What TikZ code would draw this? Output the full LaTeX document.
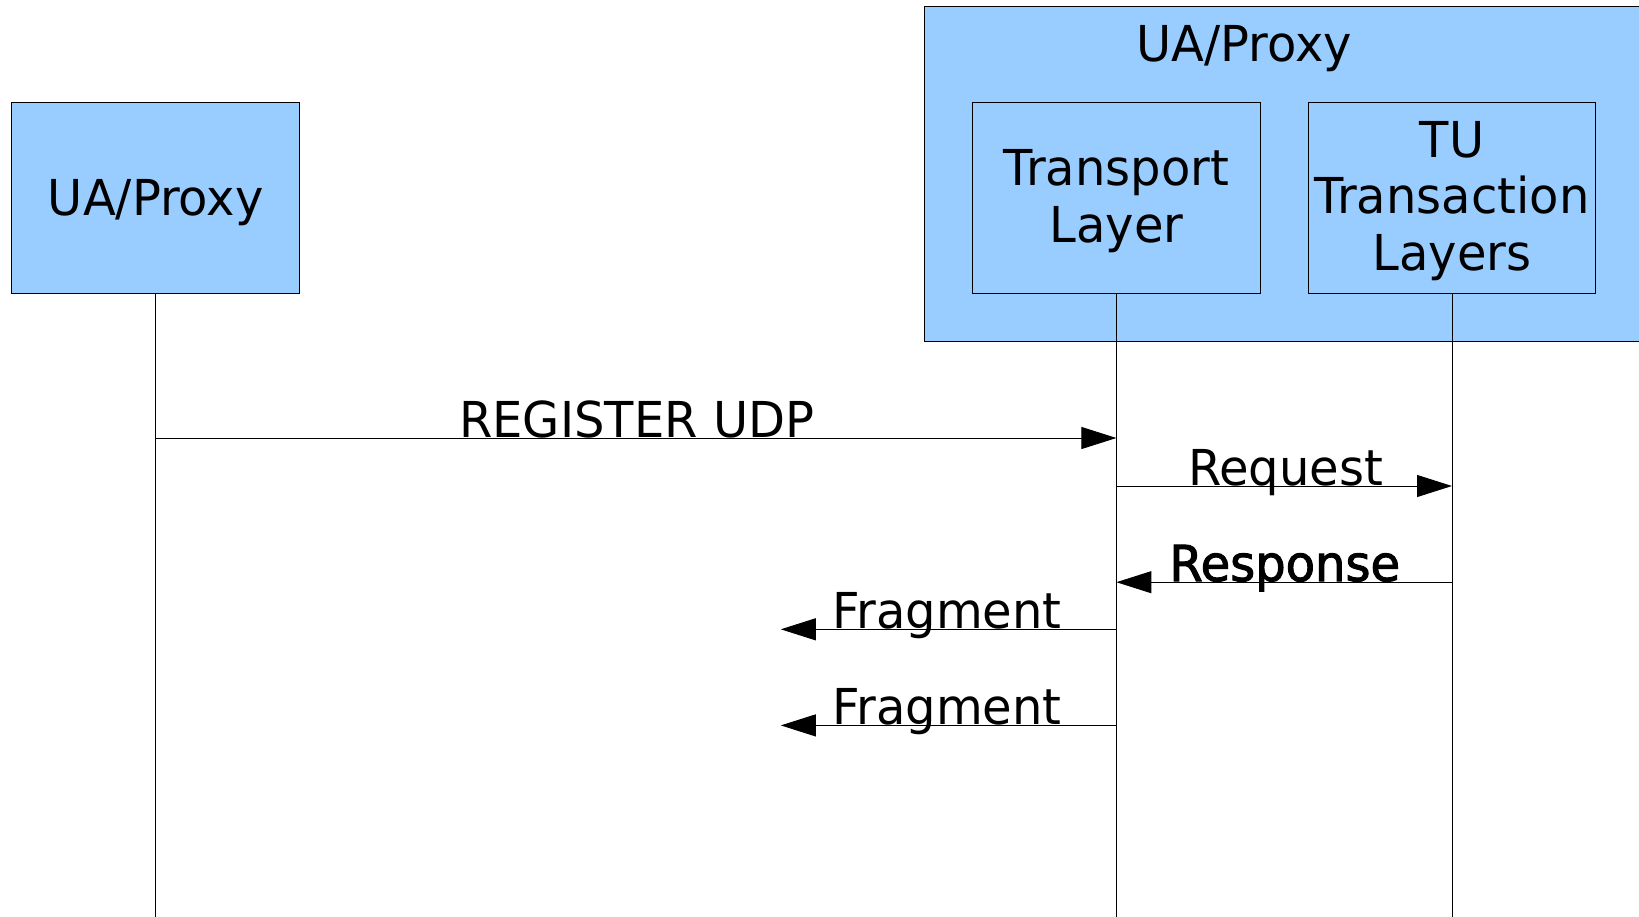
\documentclass[tikz,border=0pt]{standalone}
\usepackage{fontspec}
\setmainfont{DejaVu Sans}[FakeStretch=0.97]
\newfontfamily\heavyfont{DejaVu Sans}[FakeStretch=0.97,FakeBold=2]
\usetikzlibrary{arrows.meta}
\definecolor{layerblue}{HTML}{99CCFF}
\tikzset{
  box/.style={draw=black, line width=1pt, fill=layerblue, inner sep=0pt,
    align=center, font=\fontsize{49.5}{56.5}\selectfont},
  lifeline/.style={draw=black, line width=1pt},
  msg/.style={draw=black, line width=1pt, -{Triangle[length=35pt,width=22pt]}},
  lbl/.style={anchor=base, inner sep=0pt, font=\fontsize{49.5}{56.5}\selectfont},
}
\begin{document}
\begin{tikzpicture}[x=1pt,y=-1pt]
\useasboundingbox (0,0) rectangle (1639,916);
% outer participant (extends past the right edge)
\node[box, minimum width=736, minimum height=335.5] (outer) at (1292,174) {};
\node[lbl] (outertitle) at (1244,61) {UA/Proxy};
% participants
\node[box, minimum width=288.5, minimum height=191.3] (left) at (155.7,198) {};
\node[lbl] (lefttxt) at (155.7,215) {UA/Proxy};
\node[box, minimum width=288.5, minimum height=191.3] (trans) at (1116.4,198) {};
\node[box, minimum width=287.5, minimum height=191.3] (tu) at (1452,198) {};
\node[box, draw=none, fill=none] (transtxt) at (1116.4,201) {Transport\\Layer};
\node[box, draw=none, fill=none] (tutxt) at (1452,201) {TU\\Transaction\\Layers};
% lifelines
\coordinate (leftend) at (155.7,920);
\coordinate (transend) at (1116.4,920);
\coordinate (tuend) at (1452,920);
\draw[lifeline] (left.south) -- (leftend);
\draw[lifeline] (trans.south) -- (transend);
\draw[lifeline] (tu.south) -- (tuend);
% messages
\draw[msg] (left.south |- 0,438) -- (trans.south |- 0,438);
\node[lbl] (reglbl) at (636.6,437) {REGISTER UDP};
\draw[msg] (trans.south |- 0,486) -- (tu.south |- 0,486);
\node[lbl] (reqlbl) at (1285.7,485) {Request};
\draw[msg] (tu.south |- 0,582.2) -- (trans.south |- 0,582.2);
\node[lbl, font=\fontsize{49.5}{56.5}\heavyfont] (reslbl) at (1284.7,581) {Response};
\coordinate (frag1) at (780.8,629.3);
\coordinate (frag2) at (780.8,725.4);
\draw[msg] (trans.south |- 0,629.3) -- (frag1);
\node[lbl] (f1lbl) at (947,628) {Fragment};
\draw[msg] (trans.south |- 0,725.4) -- (frag2);
\node[lbl] (f2lbl) at (947,724) {Fragment};
\end{tikzpicture}
\end{document}
